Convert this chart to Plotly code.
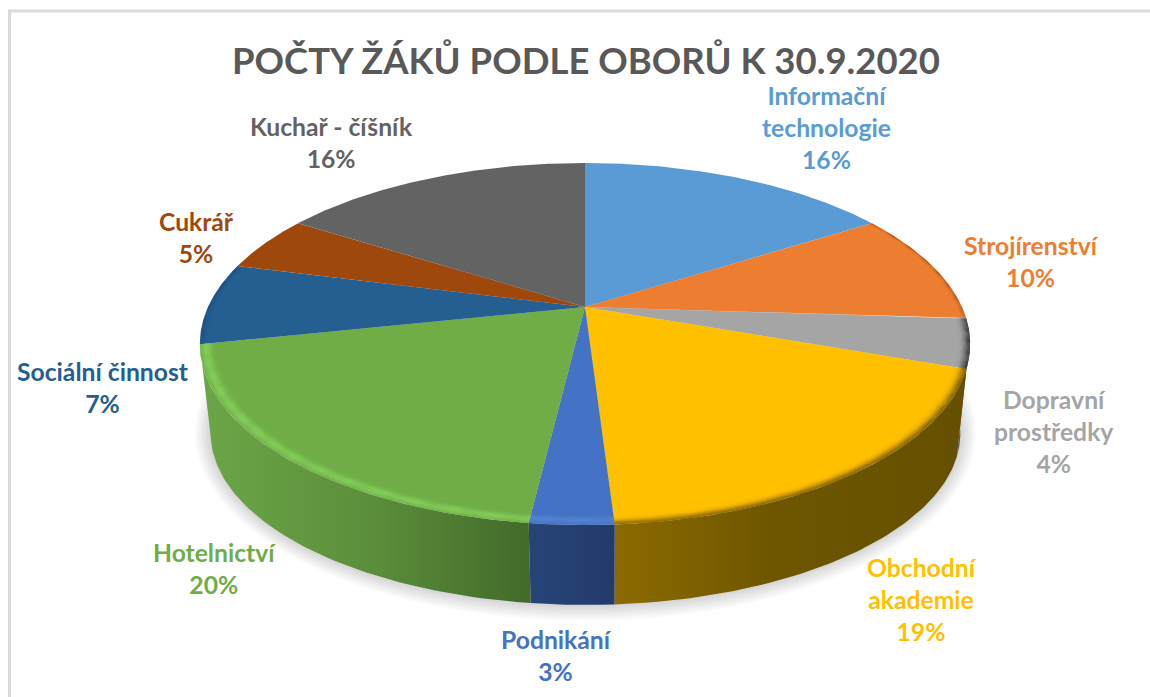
import numpy as np
import plotly.graph_objects as go

# --- data ---
categories = ["Informační<br>technologie", "Strojírenství", "Dopravní<br>prostředky",
              "Obchodní<br>akademie", "Podnikání", "Hotelnictví",
              "Sociální činnost", "Cukrář", "Kuchař - číšník"]
values = [16, 10, 4.4, 18.6, 2.9, 19.8, 7.3, 5, 16]
title_text = "POČTY ŽÁKŮ PODLE OBORŮ K 30.9.2020"

# --- styles ---
colors = ["#5B9BD5", "#ED7D31", "#A5A5A5", "#FFC000", "#4472C4", "#70AD47", "#255E91", "#9E480E", "#636363"]
side_scales = {
    2: [[0, "#5a5a5a"], [1, "#4a4a4a"]],
    3: [[0, "#8c6a00"], [0.45, "#6e5600"], [1, "#655000"]],
    4: [[0, "#274478"], [1, "#233b6b"]],
    5: [[0, "#6CA648"], [0.5, "#5c8f3b"], [1, "#426a2a"]],
}
# rim shading: colour, peak opacity, radius of the peak, spread of the shading
bevels = {
    1: ("80,35,5", 0.30, 1.0, 0.008),
    2: ("30,30,30", 0.75, 1.0, 0.014),
    3: ("95,72,0", 0.80, 1.0, 0.014),
    4: ("120,170,245", 0.30, 0.982, 0.012),
    5: ("150,235,110", 0.50, 0.984, 0.013),
    6: ("15,50,100", 0.25, 1.0, 0.010),
}
label_pos = [(826, 127), (1031, 261), (1054, 431), (922, 599), (556, 655),
             (214, 568), (103, 387), (196, 237), (331, 142)]

# perspective placement of the top and the bottom disc
TOP = dict(cx=585.0, d=377.0, a=-110.7, b=307.0, c=0.2044)
BOT = dict(cx=585.5, d=367.0, a=-83.5, b=397.8, c=0.2044)


def proj(t, r, P, sx=1.0, sy=1.0, o=(585.5, 433.0)):
    u, v = r * np.sin(t), r * np.cos(t)
    w = 1 + P["c"] * v
    x = P["cx"] + P["d"] * u / w
    y = (P["b"] + P["a"] * v) / w
    return o[0] + (x - o[0]) * sx, o[1] + (y - o[1]) * sy


total = sum(values)
edges = np.cumsum([0] + values) / total * 2 * np.pi
fig = go.Figure()


def poly(x, y, name, **kw):
    fig.add_trace(go.Scatter(x=x, y=y, mode="lines", fill="toself", line=dict(width=0),
                             hoverinfo="skip", showlegend=False, name=name, **kw))


# soft shadow under the disc
whole = np.linspace(0, 2 * np.pi, 240)
for k in range(8, 0, -1):
    sx, sy = proj(whole, 1.0, BOT, 1 + k * 0.0052, 1 + k * 0.0115)
    poly(sx, sy, "shadow", fillcolor="rgba(0,0,0,0.018)")

# side walls, from back to front
for i in side_scales:
    t = np.linspace(edges[i], edges[i + 1], 80)
    x0, y0 = proj(t, 1.0, TOP)
    x1, y1 = proj(t[::-1], 1.0, BOT)
    poly(np.r_[x0, x1, x0[0]], np.r_[y0, y1, y0[0]], categories[i] + " side",
         fillgradient=dict(type="horizontal", colorscale=side_scales[i]))

# top slices
for i, (name, col) in enumerate(zip(categories, colors)):
    t = np.linspace(edges[i], edges[i + 1], 120)
    x, y = proj(t, 1.0, TOP)
    ax, ay = proj(np.array([0.0]), 0.0, TOP)
    poly(np.r_[ax, x, ax], np.r_[ay, y, ay], name, fillcolor=col)

# soft bevel on the rim, painted as thin bands that fade away from the peak
for i, (rgb, peak, rc, spread) in bevels.items():
    t = np.linspace(edges[i], edges[i + 1], 100)
    radii = np.linspace(rc - 2.4 * spread, min(1.0, rc + 2.4 * spread), 15)
    for r0, r1 in zip(radii[:-1], radii[1:]):
        alpha = peak * np.exp(-(((r0 + r1) / 2 - rc) / spread) ** 2)
        xa, ya = proj(t, r1, TOP)
        xb, yb = proj(t[::-1], r0, TOP)
        poly(np.r_[xa, xb, xa[0]], np.r_[ya, yb, ya[0]], "rim",
             fillcolor="rgba(%s,%.3f)" % (rgb, alpha))

FONT = "Lato, Carlito, Calibri, sans-serif"
annotations = [dict(x=586, y=60, text="<b>%s</b>" % title_text, showarrow=False,
                    font=dict(family=FONT, size=36.5, color="#595959"),
                    xanchor="center", yanchor="middle", xref="x", yref="y")]
for name, v, col, (lx, ly) in zip(categories, values, colors, label_pos):
    annotations.append(dict(x=lx, y=ly, text="<b>%s<br>%d%%</b>" % (name, round(v / total * 100)),
                            showarrow=False, align="center", xref="x", yref="y",
                            xanchor="center", yanchor="middle",
                            font=dict(family=FONT, size=24.7, color=col)))

fig.update_layout(
    width=1150, height=697, margin=dict(l=0, r=0, t=0, b=0),
    paper_bgcolor="white", plot_bgcolor="white", showlegend=False,
    xaxis=dict(range=[0, 1150], visible=False, fixedrange=True),
    yaxis=dict(range=[697, 0], visible=False, fixedrange=True),
    annotations=annotations,
    shapes=[dict(type="rect", xref="x", yref="y", x0=9.5, y0=11, x1=1300, y1=900,
                 line=dict(color="#d9d9d9", width=3), layer="below")],
)
fig.write_html("out.html", config=dict(displayModeBar=False),
               post_script="document.body.style.margin='0';document.body.style.overflow='hidden';")
